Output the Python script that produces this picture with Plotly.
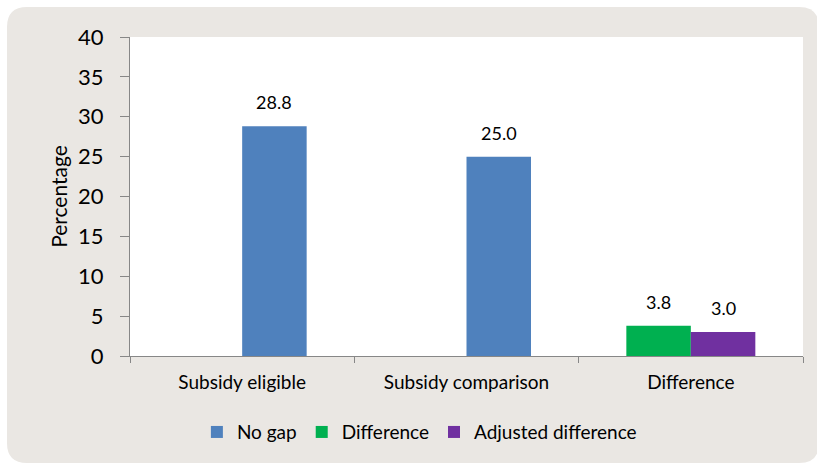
import plotly.graph_objects as go

categories = ["Subsidy eligible", "Subsidy comparison", "Difference"]
no_gap_cats = ["Subsidy eligible", "Subsidy comparison"]
no_gap_vals = [28.8, 25.0]
diff_cats = ["Difference"]
diff_vals = [3.8]
adj_cats = ["Difference"]
adj_vals = [3.0]
y_ticks = [0, 5, 10, 15, 20, 25, 30, 35, 40]

BLUE = "#4F81BD"
GREEN = "#00B050"
PURPLE = "#7030A0"
BG = "#EAE7E3"
AX = "#878787"
FONT = "Lato, 'Open Sans', sans-serif"
W = 0.2875

fig = go.Figure()
fig.add_trace(go.Bar(name="No gap", x=no_gap_cats, y=no_gap_vals, marker_color=BLUE,
                     width=W, offset=0, marker_line_width=0))
fig.add_trace(go.Bar(name="Difference", x=diff_cats, y=diff_vals, marker_color=GREEN,
                     width=W, offset=-W, marker_line_width=0))
fig.add_trace(go.Bar(name="Adjusted difference", x=adj_cats, y=adj_vals, marker_color=PURPLE,
                     width=W, offset=0, marker_line_width=0))

annotations = []
for c, v in zip(no_gap_cats, no_gap_vals):
    annotations.append(dict(x=categories.index(c) + W / 2, y=v, text=f"{v:.1f}"))
for c, v in zip(diff_cats, diff_vals):
    annotations.append(dict(x=categories.index(c) - W / 2, y=v, text=f"{v:.1f}"))
for c, v in zip(adj_cats, adj_vals):
    annotations.append(dict(x=categories.index(c) + W / 2, y=v, text=f"{v:.1f}"))
for a in annotations:
    a.update(xref="x", yref="y", showarrow=False, yanchor="bottom", yshift=11,
             font=dict(family=FONT, size=18, color="#000"))

r = 20
L, R, T, B = -123, 689, 349, -107
path = (f"M {L+r},{T} L {R-r},{T} Q {R},{T} {R},{T-r} L {R},{B+r} Q {R},{B} {R-r},{B} "
        f"L {L+r},{B} Q {L},{B} {L},{B+r} L {L},{T-r} Q {L},{T} {L+r},{T} Z")

shapes = [
    dict(type="path", xref="paper", yref="paper", xsizemode="pixel", ysizemode="pixel",
         xanchor=0, yanchor=0, path=path, fillcolor=BG, line_width=0, layer="below"),
    dict(type="rect", xref="paper", yref="paper", x0=0, x1=1, y0=0, y1=1,
         fillcolor="white", line_width=0, layer="below"),
]

fig.update_layout(
    width=817, height=465,
    margin=dict(l=130, r=14, t=37, b=109),
    paper_bgcolor="white", plot_bgcolor="white",
    barmode="overlay",
    font=dict(family=FONT, color="#000"),
    showlegend=True,
    legend=dict(orientation="h", x=0.43, xanchor="center", y=-0.179, yanchor="top",
                font=dict(size=19), bgcolor="rgba(0,0,0,0)", traceorder="normal",
                itemwidth=30),
    annotations=annotations,
    shapes=shapes,
)
fig.update_xaxes(type="category", categoryorder="array", categoryarray=categories,
                 range=[-0.5, 2.5], showline=True, linecolor=AX, linewidth=1,
                 ticks="outside", tickson="boundaries", ticklen=6, tickcolor=AX,
                 tickfont=dict(size=19), showgrid=False, ticklabelstandoff=9)
fig.update_yaxes(range=[0, 40], tickvals=y_ticks, showline=True, linecolor=AX, linewidth=1,
                 ticks="outside", ticklen=9, tickcolor=AX, tickfont=dict(size=22),
                 showgrid=False, zeroline=False, ticklabelstandoff=12,
                 title=dict(text="Percentage", font=dict(size=21), standoff=4))

fig.write_html("out.html", config={"displayModeBar": False},
               post_script="document.body.style.margin='0';document.body.style.overflow='hidden';")
